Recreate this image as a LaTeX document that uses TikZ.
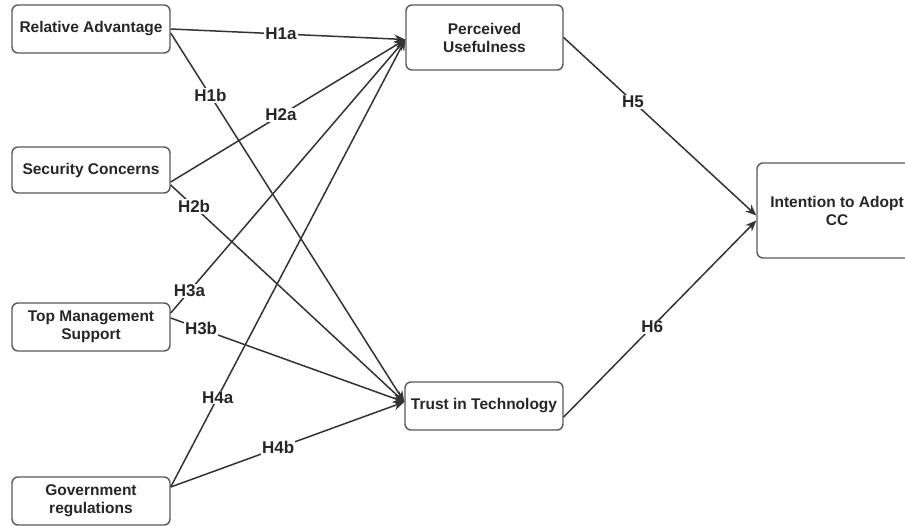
\documentclass[tikz,border=0pt]{standalone}
\usepackage{fontspec}
\setmainfont{Liberation Sans}
\usetikzlibrary{arrows.meta}
\tikzset{
  box/.style={draw=black!65, rounded corners=6pt, line width=1.4pt, minimum width=158pt,
    minimum height=48pt, align=center, inner sep=2pt, text=black!85,
    font=\fontsize{15.5}{18}\selectfont\bfseries},
  hyp/.style={fill=white, inner sep=1pt, text=black!85, font=\fontsize{17}{19}\selectfont\bfseries},
  link/.style={-{Stealth[length=11pt,width=9pt]}, line width=1.5pt, draw=black!80}
}
\begin{document}
\begin{tikzpicture}[x=1pt, y=-1pt]
    \useasboundingbox (0,0) rectangle (905,525);
    % 左侧因素
    \node[box] (ra) at (91,29) {Relative Advantage};
    \node[box, minimum height=46pt] (sc) at (91,170) {Security Concerns};
    \node[box] (tm) at (91,327) {Top Management\\Support};
    \node[box] (gr) at (91,501) {Government\\regulations};
    % 中间变量
    \node[box, minimum width=157pt, minimum height=65pt] (pu) at (484.5,37.5) {Perceived\\Usefulness};
    \node[box] (tt) at (484,406) {Trust in Technology};
    % 结果
    \node[box, minimum width=160pt, minimum height=95pt] (ia) at (837,210.5) {Intention to Adopt\\CC};
    % 假设路径
    \draw[link] (ra.east) -- node[hyp, pos=0.47] {H1a} ([yshift=-2pt]pu.west);
    \draw[link] ([yshift=-4pt]ra.east) -- node[hyp, pos=0.17] {H1b} ([yshift=4pt]tt.west);
    \draw[link] ([yshift=-12pt]sc.east) -- node[hyp, pos=0.47] {H2a} ([yshift=-2pt]pu.west);
    \draw[link] ([yshift=-15pt]sc.east) -- node[hyp, pos=0.1] {H2b} ([yshift=4pt]tt.west);
    \draw[link] ([yshift=14pt]tm.east) -- node[hyp, pos=0.08] {H3a} ([yshift=-2pt]pu.west);
    \draw[link] ([yshift=9pt]tm.east) -- node[hyp, pos=0.13] {H3b} ([yshift=4pt]tt.west);
    \draw[link] ([yshift=14pt]gr.east) -- node[hyp, pos=0.2] {H4a} ([yshift=-2pt]pu.west);
    \draw[link] ([yshift=14pt]gr.east) -- node[hyp, pos=0.46] {H4b} ([yshift=4pt]tt.west);
    \draw[link] (pu.east) -- node[hyp, pos=0.36] {H5} ([yshift=-5pt]ia.west);
    \draw[link] ([yshift=-11pt]tt.east) -- node[hyp, pos=0.46] {H6} ([yshift=-10pt]ia.west);
\end{tikzpicture}
\end{document}
